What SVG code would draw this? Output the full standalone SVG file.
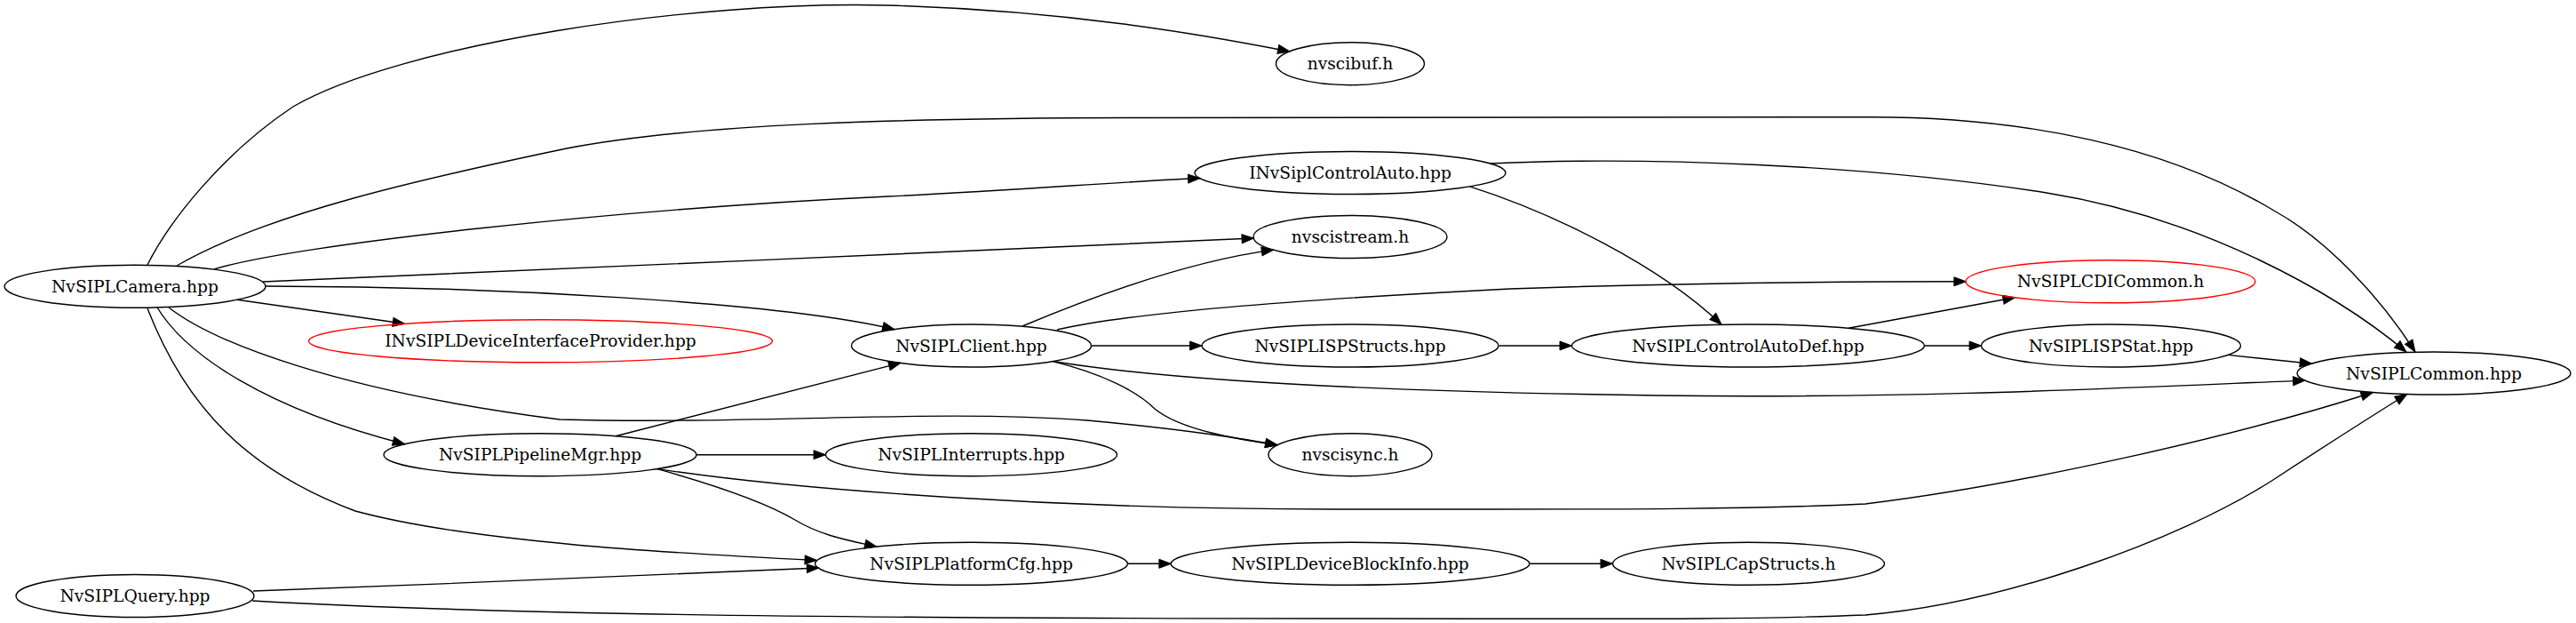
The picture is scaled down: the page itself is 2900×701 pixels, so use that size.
<svg xmlns="http://www.w3.org/2000/svg" width="2900" height="701" viewBox="0 0 2900 701">
<style>
.n ellipse{fill:none;stroke:#000;stroke-width:1.4}
.n.red ellipse{stroke:#ff0000}
.n text{font-family:"DejaVu Serif","Liberation Serif",serif;font-size:18.67px;text-anchor:middle;fill:#000}
#edges path{fill:none;stroke:#000;stroke-width:1.4;marker-end:url(#arr)}
</style>
<defs>
<marker id="arr" markerUnits="userSpaceOnUse" markerWidth="14" markerHeight="10" refX="13.4" refY="5" orient="auto" overflow="visible">
<path d="M0,0 L13.4,5 L0,10 Z" fill="#000" stroke="#000" stroke-width="1"/>
</marker>
</defs>
<rect width="2900" height="701" fill="#fff"/>
<g id="edges">
<path id="e_camera_nvscibuf" d="M166,298 C190,250 250,173 330,120 C450,50 780,0 1000,6 C1200,12 1350,38 1452,58"/>
<path id="e_camera_common" d="M199,299 C300,240 480,200 638,167 C780,140 1000,132.5 1300,132.5 L2100,131.7 C2280,131 2440,165 2560,237 C2620,270 2680,335 2719,396"/>
<path id="e_camera_controlauto" d="M241,303 C330,275 700,235 1000,221 C1150,214 1250,205 1351,200.5"/>
<path id="e_camera_nvscistream" d="M296,317 C600,303 1100,283 1411.5,268"/>
<path id="e_camera_client" d="M299,322 C550,322 880,340 1007,370.6"/>
<path id="e_camera_idip" d="M267,337.3 L455.6,364.3"/>
<path id="e_camera_nvscisync" d="M190,346 C240,385 380,440 630,472 C850,478 1050,460 1224,473 C1300,480 1380,490 1438,500.8"/>
<path id="e_camera_pipeline" d="M177,346 C210,400 300,460 455.6,499.7"/>
<path id="e_camera_platformcfg" d="M166,347 C210,460 280,530 400,575 C530,610 750,622 919.5,630.5"/>
<path id="e_controlauto_common" d="M1678,184 C1850,176 2100,185 2304,217 C2480,245 2630,330 2709,396"/>
<path id="e_controlauto_controlautodef" d="M1654.6,209.8 C1750,240 1870,300 1938,365.3"/>
<path id="e_client_nvscistream" d="M1151,367 C1220,338 1330,295 1433.7,281.1"/>
<path id="e_client_cdicommon" d="M1190,371 C1280,350 1500,335 1700,325 C1900,318 2100,316.8 2213.3,316.8"/>
<path id="e_client_lispstructs" d="M1228.6,389 L1353,389"/>
<path id="e_client_nvscisync" d="M1185,406.6 C1240,420 1280,440 1300,460 C1330,485 1400,495 1438,500.8"/>
<path id="e_client_common" d="M1188,407 C1300,425 1500,440 1868,445 C2150,449 2400,436 2595,428.1"/>
<path id="e_lispstructs_controlautodef" d="M1687.5,389 L1769.4,389"/>
<path id="e_controlautodef_cdicommon" d="M2081,369.3 L2268.4,334.8"/>
<path id="e_controlautodef_lispstat" d="M2166.3,389 L2230.5,389"/>
<path id="e_lispstat_common" d="M2508,399.4 L2602.6,409.2"/>
<path id="e_pipeline_client" d="M693,490.7 L1013.9,408.4"/>
<path id="e_pipeline_interrupts" d="M784,511.7 L929.5,511.7"/>
<path id="e_pipeline_common" d="M740,527.6 C900,552 1200,573 1500,573 C1800,573 1950,574 2100,567 C2280,545 2520,490 2671.4,441.5"/>
<path id="e_pipeline_platformcfg" d="M740,527.6 C820,550 870,570 895,585 C925,603 955,608 987,615.2"/>
<path id="e_platformcfg_deviceblockinfo" d="M1269.3,634.3 L1318.3,634.3"/>
<path id="e_deviceblockinfo_capstructs" d="M1722.3,634.3 L1815.4,634.3"/>
<path id="e_query_platformcfg" d="M285,665 C500,657 750,647 921.8,639"/>
<path id="e_query_common" d="M284,676 C500,688 800,696 1500,696 C1800,696 1950,698 2100,692 C2250,680 2450,610 2559,540 C2620,500 2680,462 2709.7,443.5"/>
</g>
<g id="n_camera" class="n"><ellipse cx="152" cy="322.3" rx="147" ry="24"/><text x="152" y="328.8">NvSIPLCamera.hpp</text></g>
<g id="n_query" class="n"><ellipse cx="152" cy="670.5" rx="134" ry="24"/><text x="152" y="677">NvSIPLQuery.hpp</text></g>
<g id="n_idip" class="n red"><ellipse cx="608.5" cy="383.8" rx="261" ry="24"/><text x="608.5" y="390.3">INvSIPLDeviceInterfaceProvider.hpp</text></g>
<g id="n_pipeline" class="n"><ellipse cx="608" cy="511.7" rx="176" ry="24"/><text x="608" y="518.2">NvSIPLPipelineMgr.hpp</text></g>
<g id="n_client" class="n"><ellipse cx="1093.5" cy="389" rx="135" ry="24"/><text x="1093.5" y="395.5">NvSIPLClient.hpp</text></g>
<g id="n_interrupts" class="n"><ellipse cx="1093.5" cy="511.7" rx="164" ry="24"/><text x="1093.5" y="518.2">NvSIPLInterrupts.hpp</text></g>
<g id="n_platformcfg" class="n"><ellipse cx="1093.5" cy="634.3" rx="176" ry="24"/><text x="1093.5" y="640.8">NvSIPLPlatformCfg.hpp</text></g>
<g id="n_nvscibuf" class="n"><ellipse cx="1520" cy="71.7" rx="83.5" ry="24"/><text x="1520" y="78.2">nvscibuf.h</text></g>
<g id="n_controlauto" class="n"><ellipse cx="1520" cy="194.5" rx="175" ry="24"/><text x="1520" y="201">INvSiplControlAuto.hpp</text></g>
<g id="n_nvscistream" class="n"><ellipse cx="1520" cy="266.5" rx="109" ry="24"/><text x="1520" y="273">nvscistream.h</text></g>
<g id="n_lispstructs" class="n"><ellipse cx="1520" cy="389" rx="167" ry="24"/><text x="1520" y="395.5">NvSIPLISPStructs.hpp</text></g>
<g id="n_nvscisync" class="n"><ellipse cx="1520" cy="511.7" rx="92" ry="24"/><text x="1520" y="518.2">nvscisync.h</text></g>
<g id="n_deviceblockinfo" class="n"><ellipse cx="1520" cy="634.3" rx="202" ry="24"/><text x="1520" y="640.8">NvSIPLDeviceBlockInfo.hpp</text></g>
<g id="n_controlautodef" class="n"><ellipse cx="1968" cy="389" rx="198.5" ry="24"/><text x="1968" y="395.5">NvSIPLControlAutoDef.hpp</text></g>
<g id="n_capstructs" class="n"><ellipse cx="1968.5" cy="634.3" rx="153" ry="24"/><text x="1968.5" y="640.8">NvSIPLCapStructs.h</text></g>
<g id="n_cdicommon" class="n red"><ellipse cx="2376" cy="316.8" rx="163" ry="24"/><text x="2376" y="323.3">NvSIPLCDICommon.h</text></g>
<g id="n_lispstat" class="n"><ellipse cx="2376.5" cy="389" rx="146" ry="24"/><text x="2376.5" y="395.5">NvSIPLISPStat.hpp</text></g>
<g id="n_common" class="n"><ellipse cx="2740" cy="420" rx="154" ry="24"/><text x="2740" y="426.5">NvSIPLCommon.hpp</text></g>
</svg>
